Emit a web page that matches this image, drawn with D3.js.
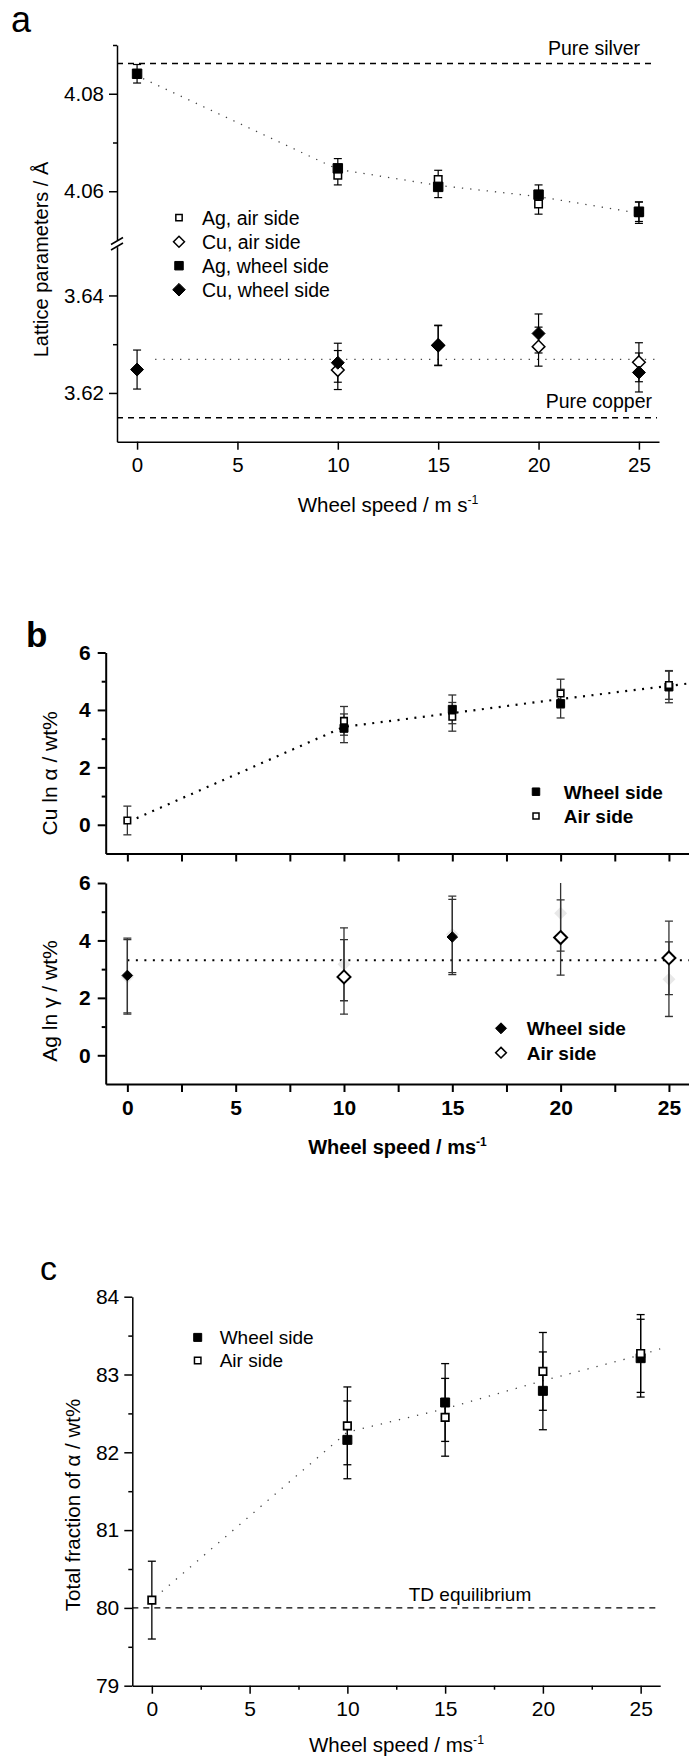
<!DOCTYPE html>
<html>
<head>
<meta charset="utf-8">
<script src="https://cdn.jsdelivr.net/npm/d3@7"></script>
<style>
    body { margin: 0; background: #fff; }
    svg { display: block; }
</style>
</head>
<body>
<svg id="fig" width="689" height="1761"></svg>
<script>
// Wheel speeds (m/s) shared by every panel
const speeds = [0, 10, 15, 20, 25];

// Panel a: lattice parameters (Å), null = no marker
const agAirLat = [null, 4.0633, 4.0624, 4.0574, 4.0556];
const agAirLatErr = [null, 0.002, 0.0019, 0.0021, 0.0022];
const agWheelLat = [4.0841, 4.0647, 4.0609, 4.0593, 4.0558];
const agWheelLatErr = [0.0019, 0.002, 0.0022, 0.002, 0.002];
const cuAirLat = [null, 3.6247, 3.6298, 3.6295, 3.6263];
const cuAirLatErr = [null, 0.004, 0.0041, 0.004, 0.004];
const cuWheelLat = [3.6248, 3.6262, 3.6297, 3.6322, 3.6242];
const cuWheelLatErr = [0.004, 0.004, 0.0041, 0.004, 0.004];
const agLatTrend = [[0.3, 4.0831], [10, 4.0645], [15, 4.0612], [20, 4.0589], [25, 4.0555], [25.45, 4.0554]];
const cuLatTrend = [[0.9, 3.6269], [26, 3.6269]];
const pureSilver = 4.0862;
const pureCopper = 3.6149;

// Panel b: Cu in alpha, Ag in gamma (wt%)
const cuAlphaWheel = [null, 3.36, 4.02, 4.22, 4.80];
const cuAlphaWheelErr = [null, 0.5, 0.5, 0.5, 0.55];
const cuAlphaAir = [0.15, 3.62, 3.76, 4.57, 4.87];
const cuAlphaAirErr = [0.5, 0.5, 0.5, 0.5, 0.5];
const cuAlphaTrend = [[0.43, 0.23], [10, 3.41], [15, 3.89], [20, 4.38], [25.9, 4.92]];
const agGammaWheel = [2.78, 3.17, 4.12, 4.95, 2.65];
const agGammaWheelErr = [1.3, 1.27, 1.31, 1.32, 1.3];
const agGammaWheelFaint = [false, true, false, true, true];
const agGammaAir = [2.73, 2.73, 4.21, 4.10, 3.39];
const agGammaAirErr = [1.3, 1.3, 1.33, 1.31, 1.28];
const agGammaAirFaint = [true, false, true, false, false];
const agGammaTrend = [[0, 3.31], [26, 3.31]];

// Panel c: total fraction of alpha (wt%)
const fracWheel = [null, 82.16, 82.64, 82.79, 83.21];
const fracWheelErr = [null, 0.5, 0.5, 0.5, 0.5];
const fracAir = [80.1, 82.34, 82.45, 83.04, 83.27];
const fracAirErr = [0.5, 0.5, 0.5, 0.5, 0.5];
const fracTrend = [[0.51, 80.21], [10, 82.26], [15, 82.56], [20, 82.92], [25, 83.25], [26, 83.33]];
const tdEquilibrium = 80;

const FONT = 'Arial, "Liberation Sans", sans-serif';
const svg = d3.select('#fig');
const intFmt = d3.format('d');

// Square-ish diamond (d3's own diamond is too narrow)
const diamond = {
    draw(ctx, size) {
        const r = Math.sqrt(size / 2);
        ctx.moveTo(0, -r);
        ctx.lineTo(r, 0);
        ctx.lineTo(0, r);
        ctx.lineTo(-r, 0);
        ctx.closePath();
    }
};

function series(vals, errs, faint) {
    return speeds
        .map((s, i) => ({ x: s, y: vals[i], e: errs[i], faint: faint ? faint[i] : false }))
        .filter(d => d.y != null);
}

function styleAxis(g, size, weight, sw) {
    g.attr('font-family', FONT).attr('font-size', size).attr('font-weight', weight);
    g.select('.domain').attr('stroke', '#000').attr('stroke-width', sw);
    g.selectAll('.tick line').attr('stroke', '#000').attr('stroke-width', sw);
    g.selectAll('.tick text').attr('fill', '#000');
}

function minorTicks(g, axis, sw) {
    g.call(axis.tickFormat(''))
        .call(s => s.select('.domain').remove())
        .selectAll('.tick line').attr('stroke', '#000').attr('stroke-width', sw);
}

function errorBars(g, data, x, y, color, sw, cap) {
    const eg = g.append('g').attr('stroke', color).attr('stroke-width', sw);
    data.forEach(d => {
        eg.append('line')
            .attr('x1', x(d.x)).attr('x2', x(d.x))
            .attr('y1', y(d.y - d.e)).attr('y2', y(d.y + d.e));
        [d.y - d.e, d.y + d.e].forEach(v => {
            eg.append('line')
                .attr('x1', x(d.x) - cap).attr('x2', x(d.x) + cap)
                .attr('y1', y(v)).attr('y2', y(v));
        });
    });
}

function markers(g, data, x, y, type, size, fill, stroke, sw) {
    g.append('g').selectAll('path')
        .data(data)
        .enter()
        .append('path')
        .attr('transform', d => `translate(${x(d.x)},${y(d.y)})`)
        .attr('d', d3.symbol(type, size))
        .attr('fill', d => d.faint ? '#e8e8e8' : fill)
        .attr('stroke', d => d.faint ? 'none' : stroke)
        .attr('stroke-width', sw);
}

function trendLine(g, pts, x, y, color, sw, dash) {
    g.append('path')
        .datum(pts)
        .attr('d', d3.line().x(d => x(d[0])).y(d => y(d[1])))
        .attr('fill', 'none')
        .attr('stroke', color)
        .attr('stroke-width', sw)
        .attr('stroke-dasharray', dash);
}

function label(g, x, y, text, size, opts = {}) {
    const t = g.append('text')
        .attr('x', x).attr('y', y)
        .attr('font-family', FONT)
        .attr('font-size', size)
        .attr('font-weight', opts.weight || 'normal')
        .attr('text-anchor', opts.anchor || 'start')
        .attr('fill', '#000')
        .text(text);
    if (opts.sup) {
        t.append('tspan').attr('dy', -8).attr('font-size', size * 0.6).text(opts.sup);
    }
    return t;
}

function yLabel(g, x, y, text, size, weight) {
    g.append('text')
        .attr('transform', `translate(${x},${y}) rotate(-90)`)
        .attr('text-anchor', 'middle')
        .attr('font-family', FONT)
        .attr('font-size', size)
        .attr('font-weight', weight || 'normal')
        .attr('fill', '#000')
        .text(text);
}

function legend(g, items, x, y0, dy, tx, size, weight) {
    items.forEach((it, i) => {
        const y = y0 + i * dy;
        g.append('path')
            .attr('transform', `translate(${x},${y})`)
            .attr('d', d3.symbol(it.type, it.size))
            .attr('fill', it.fill)
            .attr('stroke', it.stroke)
            .attr('stroke-width', it.sw);
        label(g, tx, y + 7, it.text, size, { weight });
    });
}

// ---------------- Panel a ----------------
(function panelA() {
    const g = svg.append('g');
    const x = d3.scaleLinear().domain([-1, 26]).range([117, 659]);
    const yAg = d3.scaleLinear().domain([4.05, 4.09]).range([240, 45]);
    const yCu = d3.scaleLinear().domain([3.61, 3.65]).range([441.7, 246.7]);

    label(g, 11, 32, 'a', 36);

    // reference lines
    g.append('line').attr('x1', x(-1)).attr('x2', 655)
        .attr('y1', yAg(pureSilver)).attr('y2', yAg(pureSilver))
        .attr('stroke', '#000').attr('stroke-width', 1.4).attr('stroke-dasharray', '6,5');
    g.append('line').attr('x1', x(-1)).attr('x2', 657)
        .attr('y1', yCu(pureCopper)).attr('y2', yCu(pureCopper))
        .attr('stroke', '#000').attr('stroke-width', 1.4).attr('stroke-dasharray', '6,5');
    label(g, 640, 55, 'Pure silver', 19.5, { anchor: 'end' });
    label(g, 652, 408, 'Pure copper', 19.5, { anchor: 'end' });

    // axes
    const up = g.append('g').attr('transform', 'translate(117,0)')
        .call(d3.axisLeft(yAg).tickValues([4.06, 4.08]).tickSize(8).tickSizeOuter(0)
            .tickPadding(5).tickFormat(d3.format('.2f')));
    styleAxis(up, 20.5, 'normal', 1.5);
    minorTicks(g.append('g').attr('transform', 'translate(117,0)'),
        d3.axisLeft(yAg).tickValues([4.07, 4.09]).tickSize(4), 1.5);

    const low = g.append('g').attr('transform', 'translate(117,0)')
        .call(d3.axisLeft(yCu).tickValues([3.62, 3.64]).tickSize(8).tickSizeOuter(0)
            .tickPadding(5).tickFormat(d3.format('.2f')));
    styleAxis(low, 20.5, 'normal', 1.5);
    minorTicks(g.append('g').attr('transform', 'translate(117,0)'),
        d3.axisLeft(yCu).tickValues([3.63]).tickSize(4), 1.5);

    // axis break
    [[244.5, 237.5], [250, 243]].forEach(([ya, yb]) => {
        g.append('line').attr('x1', 111).attr('x2', 123).attr('y1', ya).attr('y2', yb)
            .attr('stroke', '#000').attr('stroke-width', 1.5);
    });

    const xa = g.append('g').attr('transform', 'translate(0,441.7)')
        .call(d3.axisBottom(x).tickValues([0, 5, 10, 15, 20, 25]).tickSize(8)
            .tickSizeOuter(0).tickPadding(8).tickFormat(intFmt));
    styleAxis(xa, 20.5, 'normal', 1.5);

    label(g, 388, 512, 'Wheel speed / m s', 20.5, { anchor: 'middle', sup: '-1' });
    yLabel(g, 48, 259.5, 'Lattice parameters / Å', 20);

    // trends
    trendLine(g, agLatTrend, x, yAg, '#444', 1.3, '1.3,7');
    trendLine(g, cuLatTrend, x, yCu, '#444', 1.3, '1.3,7');

    // Ag
    const agAir = series(agAirLat, agAirLatErr);
    const agWheel = series(agWheelLat, agWheelLatErr);
    errorBars(g, agAir, x, yAg, '#000', 1.2, 4);
    errorBars(g, agWheel, x, yAg, '#000', 1.2, 4);
    markers(g, agAir, x, yAg, d3.symbolSquare, 56, '#fff', '#000', 1.5);
    markers(g, agWheel, x, yAg, d3.symbolSquare, 90, '#000', '#000', 1);

    // Cu
    const cuAir = series(cuAirLat, cuAirLatErr);
    const cuWheel = series(cuWheelLat, cuWheelLatErr);
    errorBars(g, cuAir, x, yCu, '#000', 1.2, 4);
    errorBars(g, cuWheel, x, yCu, '#000', 1.2, 4);
    markers(g, cuAir, x, yCu, diamond, 80, '#fff', '#000', 1.5);
    markers(g, cuWheel, x, yCu, diamond, 84, '#000', '#000', 1);

    legend(g, [
        { text: 'Ag, air side', type: d3.symbolSquare, size: 40, fill: '#fff', stroke: '#000', sw: 1.5 },
        { text: 'Cu, air side', type: diamond, size: 60, fill: '#fff', stroke: '#000', sw: 1.5 },
        { text: 'Ag, wheel side', type: d3.symbolSquare, size: 72, fill: '#000', stroke: '#000', sw: 1 },
        { text: 'Cu, wheel side', type: diamond, size: 80, fill: '#000', stroke: '#000', sw: 1 }
    ], 179, 217.7, 24, 202, 19.5, 'normal');
})();

// ---------------- Panel b ----------------
(function panelB() {
    const g = svg.append('g');
    const x = d3.scaleLinear().domain([-1, 26]).range([105.7, 690.6]);
    const yTop = d3.scaleLinear().domain([-1, 6]).range([853.5, 652.5]);
    const yBot = d3.scaleLinear().domain([-1, 6]).range([1084, 883]);
    const xTicks = d3.range(0, 25.1, 2.5);

    svg.append('defs').append('clipPath').attr('id', 'clipBot')
        .append('rect').attr('x', 105.7).attr('y', 883).attr('width', 590).attr('height', 201);

    label(g, 26, 646.5, 'b', 35, { weight: 'bold' });

    [[yTop, 853.5], [yBot, 1084]].forEach(([y, y0], k) => {
        const ya = g.append('g').attr('transform', 'translate(105.7,0)')
            .call(d3.axisLeft(y).tickValues([0, 2, 4, 6]).tickSize(8).tickSizeOuter(0)
                .tickPadding(7).tickFormat(intFmt));
        styleAxis(ya, 21, 'bold', 2);
        minorTicks(g.append('g').attr('transform', 'translate(105.7,0)'),
            d3.axisLeft(y).tickValues([1, 3, 5]).tickSize(4), 2);
        const xa = g.append('g').attr('transform', `translate(0,${y0})`)
            .call(d3.axisBottom(x).tickValues(xTicks).tickSize(8).tickSizeOuter(0).tickPadding(8)
                .tickFormat(d => (k === 1 && d % 5 === 0) ? intFmt(d) : ''));
        styleAxis(xa, 21, 'bold', 2);
    });

    label(g, 397.5, 1154, 'Wheel speed / ms', 20, { anchor: 'middle', weight: 'bold', sup: '-1' });
    yLabel(g, 57, 773.3, 'Cu ln α / wt%', 21);
    yLabel(g, 57, 1001, 'Ag ln γ / wt%', 21);

    // top: Cu in alpha
    trendLine(g, cuAlphaTrend, x, yTop, '#000', 2.2, '2,6.5');
    const cuW = series(cuAlphaWheel, cuAlphaWheelErr);
    const cuA = series(cuAlphaAir, cuAlphaAirErr);
    errorBars(g, cuW, x, yTop, '#333', 1.3, 4);
    errorBars(g, cuA, x, yTop, '#333', 1.3, 4);
    markers(g, cuW, x, yTop, d3.symbolSquare, 64, '#000', '#000', 1);
    markers(g, cuA, x, yTop, d3.symbolSquare, 42, '#fff', '#000', 1.6);

    legend(g, [
        { text: 'Wheel side', type: d3.symbolSquare, size: 56, fill: '#000', stroke: '#000', sw: 1 },
        { text: 'Air side', type: d3.symbolSquare, size: 36, fill: '#fff', stroke: '#000', sw: 1.5 }
    ], 536, 791.7, 24.3, 563.7, 19, 'bold');

    // bottom: Ag in gamma
    const gb = g.append('g').attr('clip-path', 'url(#clipBot)');
    trendLine(gb, agGammaTrend, x, yBot, '#000', 2.2, '2,6.5');
    const agW = series(agGammaWheel, agGammaWheelErr, agGammaWheelFaint);
    const agA = series(agGammaAir, agGammaAirErr, agGammaAirFaint);
    markers(gb, agW.filter(d => d.faint), x, yBot, diamond, 84, '#000', '#000', 1);
    markers(gb, agA.filter(d => d.faint), x, yBot, diamond, 84, '#fff', '#000', 2);
    errorBars(gb, agW, x, yBot, '#333', 1.3, 4);
    errorBars(gb, agA, x, yBot, '#333', 1.3, 4);
    markers(gb, agW.filter(d => !d.faint), x, yBot, diamond, 56, '#000', '#000', 1);
    markers(gb, agA.filter(d => !d.faint), x, yBot, diamond, 84, '#fff', '#000', 2);

    legend(g, [
        { text: 'Wheel side', type: diamond, size: 60, fill: '#000', stroke: '#000', sw: 1 },
        { text: 'Air side', type: diamond, size: 56, fill: '#fff', stroke: '#000', sw: 1.6 }
    ], 501, 1028.3, 24.4, 526.7, 19, 'bold');
})();

// ---------------- Panel c ----------------
(function panelC() {
    const g = svg.append('g');
    const x = d3.scaleLinear().domain([-1, 26]).range([132.3, 660.2]);
    const y = d3.scaleLinear().domain([79, 84]).range([1685.7, 1296.7]);

    label(g, 40, 1280, 'c', 34);

    g.append('line').attr('x1', x(-1)).attr('x2', 657)
        .attr('y1', y(tdEquilibrium)).attr('y2', y(tdEquilibrium))
        .attr('stroke', '#000').attr('stroke-width', 1.4).attr('stroke-dasharray', '6,5');
    label(g, 470, 1601, 'TD equilibrium', 19, { anchor: 'middle' });

    const ya = g.append('g').attr('transform', 'translate(132.3,0)')
        .call(d3.axisLeft(y).tickValues([79, 80, 81, 82, 83, 84]).tickSize(8).tickSizeOuter(0)
            .tickPadding(5).tickFormat(intFmt));
    styleAxis(ya, 21, 'normal', 1.5);
    minorTicks(g.append('g').attr('transform', 'translate(132.3,0)'),
        d3.axisLeft(y).tickValues([79.5, 80.5, 81.5, 82.5, 83.5]).tickSize(4), 1.5);

    const xa = g.append('g').attr('transform', 'translate(0,1685.7)')
        .call(d3.axisBottom(x).tickValues([0, 5, 10, 15, 20, 25]).tickSize(8).tickSizeOuter(0)
            .tickPadding(7).tickFormat(intFmt));
    styleAxis(xa, 21, 'normal', 1.5);
    minorTicks(g.append('g').attr('transform', 'translate(0,1685.7)'),
        d3.axisBottom(x).tickValues([2.5, 7.5, 12.5, 17.5, 22.5]).tickSize(4), 1.5);

    label(g, 396.5, 1752, 'Wheel speed / ms', 20.5, { anchor: 'middle', sup: '-1' });
    yLabel(g, 80, 1505, 'Total fraction of α / wt%', 20.5);

    trendLine(g, fracTrend, x, y, '#444', 1.3, '1.3,8');
    const fw = series(fracWheel, fracWheelErr);
    const fa = series(fracAir, fracAirErr);
    errorBars(g, fw, x, y, '#000', 1.3, 4);
    errorBars(g, fa, x, y, '#000', 1.3, 4);
    markers(g, fw, x, y, d3.symbolSquare, 81, '#000', '#000', 1);
    markers(g, fa, x, y, d3.symbolSquare, 56, '#fff', '#000', 1.7);

    legend(g, [
        { text: 'Wheel side', type: d3.symbolSquare, size: 64, fill: '#000', stroke: '#000', sw: 1 },
        { text: 'Air side', type: d3.symbolSquare, size: 42, fill: '#fff', stroke: '#000', sw: 1.5 }
    ], 197.7, 1337.4, 23, 219.7, 19, 'normal');
})();
</script>
</body>
</html>
